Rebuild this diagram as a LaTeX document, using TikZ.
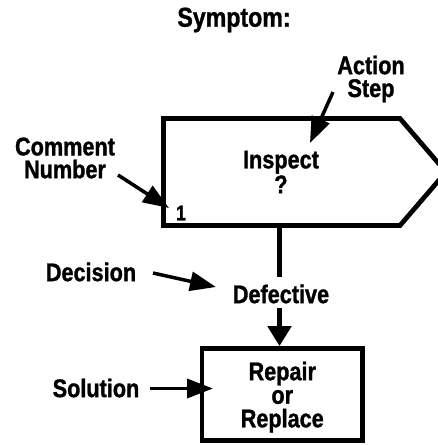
\documentclass[tikz,border=0pt]{standalone}
\usepackage{fontspec}
\newfontfamily\lblfont{Liberation Sans Bold}[FakeStretch=0.85, FakeBold=1.2]
\usetikzlibrary{arrows.meta}

\begin{document}
\begin{tikzpicture}[
    x=0.02cm, y=-0.02cm,
    lbl/.style={font=\lblfont\fontsize{14.5}{13}\selectfont, align=center, inner sep=1pt},
    num/.style={font=\lblfont\fontsize{12}{12}\selectfont, inner sep=0pt},
    thick line/.style={line width=2.7pt},
    box/.style={draw, thick line, minimum width=3.21cm, minimum height=1.84cm, lbl, font=\lblfont\fontsize{14.5}{13.4}\selectfont, text depth=0pt},
    ptr/.style={line width=2pt, -{Triangle[length=0.52cm, width=0.38cm]}},
    bigptr/.style={line width=2.8pt, -{Triangle[length=0.4cm, width=0.46cm]}}
]
\useasboundingbox (0,0) rectangle (438,445);
\clip (0,0) rectangle (438,445);

% Title
\node[lbl, font=\lblfont\fontsize{15.5}{15}\selectfont] (symptom) at (234,20) {Symptom:};

% Action step
\draw[thick line, line join=miter] (400,118.5) -- (163.5,118.5) -- (163.5,225.5) -- (400,225.5) -- (446,172) -- cycle;
\node[lbl] (inspect) at (281,172) {Inspect\\?};
\node[num] (num) at (181,213) {1};
\node[lbl] (actionlbl) at (371,79) {Action\\Step};
\node[lbl] (commentlbl) at (65,158) {Comment\\Number};

% Decision
\coordinate (hexbot) at (279.5,225.5);
\coordinate (linebot) at (279.5,277);
\coordinate (declinetop) at (279.5,308);
\node[lbl] (defective) at (281,294) {Defective};
\node[lbl] (decisionlbl) at (91,272) {Decision};

% Solution
\node[box] (repair) at (282.25,394.5) {Repair\\or\\Replace};
\node[lbl] (solutionlbl) at (96,388) {Solution};

% Connectors
\coordinate (actionstart) at (333,92);
\coordinate (actiontip) at (310,143);
\coordinate (commentstart) at (118,175);
\coordinate (commenttip) at (169,208);
\coordinate (decisionstart) at (153,273);
\coordinate (decisiontip) at (216,287);
\coordinate (solutionstart) at (150,388.5);
\coordinate (solutiontip) at (213,388.5);
\draw[ptr] (actionstart) -- (actiontip);
\draw[ptr] (commentstart) -- (commenttip);
\draw[ptr] (decisionstart) -- (decisiontip);
\draw[ptr] (solutionstart) -- (solutiontip);
\draw[thick line] (hexbot) -- (linebot);
\draw[bigptr] (declinetop) -- (declinetop |- repair.north);
\end{tikzpicture}
\end{document}
